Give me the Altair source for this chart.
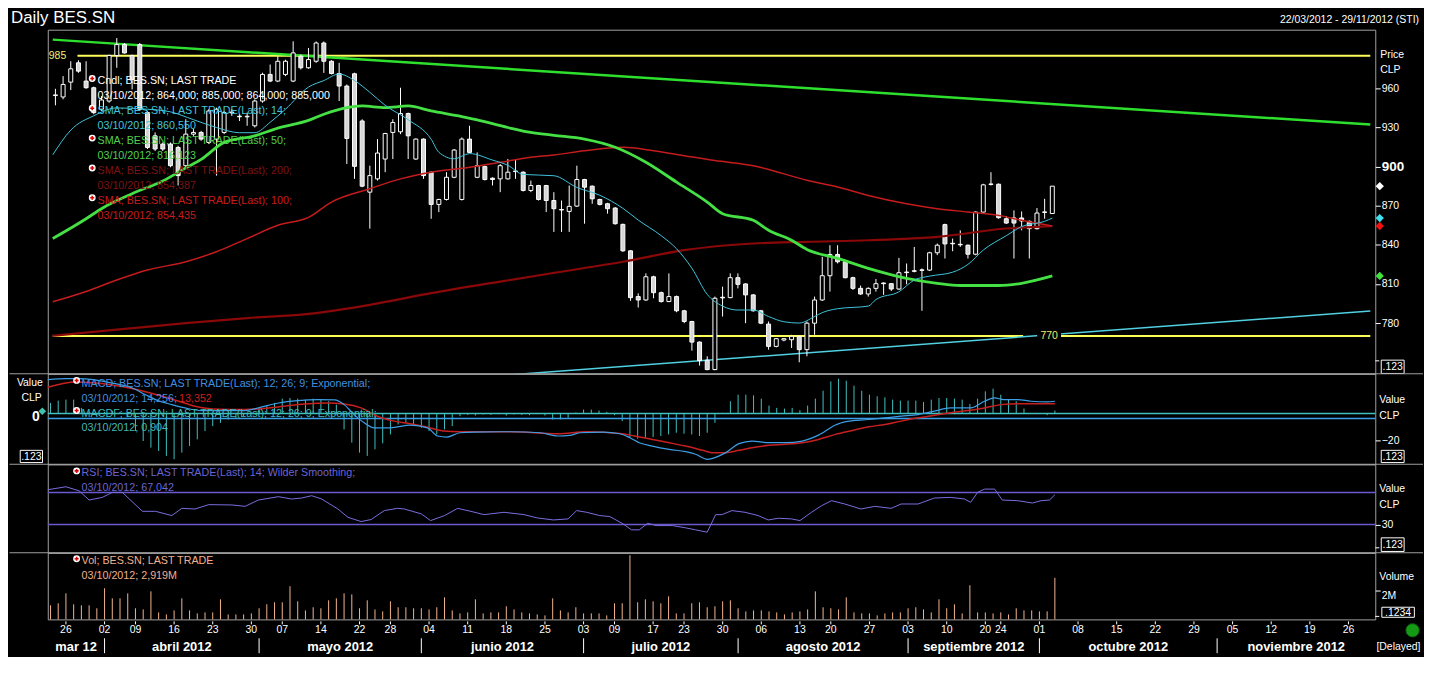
import altair as alt
import pandas as pd

F = "Liberation Sans, Arial, Helvetica, sans-serif"

# ---------------- data (trading-day index 0 = 22/03/2012) ----------------
OPEN = [954.5, 953.4, 964.8, 979.6, 965.6, 960.5, 944.0, 950.3, 985.2, 993.6,
        985.2, 993.6, 941.4, 923.6, 917.3, 917.3, 914.7, 900.7, 924.9, 926.2,
        918.5, 921.1, 926.2, 941.8, 938.6, 938.2, 931.3, 950.3, 970.7, 965.6,
        970.7, 965.6, 984.7, 975.8, 980.8, 994.8, 980.8, 971.4, 961.8, 971.2,
        935.0, 880.4, 890.6, 905.8, 926.2, 926.7, 940.7, 905.8, 921.1, 895.7,
        871.0, 874.8, 891.8, 874.8, 921.1, 891.8, 900.0, 891.1, 890.6, 890.6,
        896.6, 895.7, 881.7, 885.5, 885.5, 874.0, 867.1, 865.6, 869.7, 890.1,
        885.0, 874.8, 871.5, 868.2, 855.7, 835.4, 800.3, 797.7, 815.5, 803.3,
        796.5, 800.3, 789.4, 781.2, 765.4, 751.5, 744.3, 799.8, 799.5, 814.8,
        810.0, 801.6, 789.4, 779.2, 762.1, 767.0, 767.2, 769.8, 759.6, 779.9,
        797.7, 816.3, 832.6, 827.0, 814.8, 806.6, 802.3, 806.6, 810.7, 810.2,
        806.1, 819.1, 820.1, 820.8, 820.6, 833.9, 855.5, 841.2, 840.4, 839.7,
        832.8, 865.1, 886.3, 886.5, 860.0, 860.6, 860.6, 858.0, 852.4, 864.8,
        864.0]
HIGH = [959.7, 969.4, 980.8, 981.6, 980.8, 961.3, 954.1, 985.9, 998.6, 994.8,
        985.9, 994.8, 942.7, 926.2, 918.5, 918.5, 916.0, 936.3, 928.7, 927.4,
        944.0, 945.2, 942.7, 944.0, 940.2, 941.4, 951.6, 972.0, 978.3, 984.7,
        982.0, 996.1, 985.9, 991.0, 996.0, 996.0, 981.6, 979.6, 963.0, 972.0,
        936.3, 900.7, 921.1, 925.9, 936.3, 960.5, 941.4, 921.6, 921.6, 896.2,
        875.3, 895.7, 913.5, 922.4, 931.3, 910.9, 900.7, 891.8, 902.0, 905.8,
        905.8, 896.4, 889.3, 886.0, 886.0, 880.4, 874.0, 885.5, 900.7, 890.6,
        885.5, 875.3, 872.2, 869.0, 856.2, 835.9, 802.8, 818.1, 816.3, 804.1,
        818.1, 801.1, 790.1, 781.7, 765.9, 754.5, 800.3, 807.9, 818.1, 818.1,
        810.5, 802.1, 790.1, 781.2, 768.5, 768.5, 771.0, 770.5, 781.2, 800.3,
        830.8, 839.7, 839.7, 827.5, 815.5, 808.7, 807.4, 813.8, 811.2, 810.7,
        830.0, 825.7, 838.4, 821.9, 834.7, 841.0, 856.2, 844.8, 851.1, 840.2,
        865.6, 886.8, 895.7, 887.0, 862.1, 866.4, 865.6, 858.7, 868.2, 875.3,
        885.0]
LOW = [947.0, 951.6, 958.7, 971.9, 959.7, 940.2, 942.7, 949.0, 975.8, 986.7,
       959.2, 942.7, 913.5, 912.0, 912.0, 899.5, 885.5, 899.5, 923.6, 919.8,
       917.3, 893.1, 924.9, 938.9, 935.0, 931.3, 930.0, 949.0, 964.8, 964.8,
       969.4, 964.8, 974.5, 975.0, 979.6, 971.9, 970.7, 950.3, 902.0, 890.6,
       884.2, 852.4, 889.3, 895.7, 905.8, 924.9, 905.8, 905.3, 890.6, 860.0,
       865.1, 874.0, 891.1, 874.0, 910.4, 891.1, 889.3, 885.5, 880.4, 890.1,
       890.6, 880.9, 880.4, 874.0, 865.1, 849.9, 849.9, 849.9, 869.0, 856.2,
       871.5, 870.2, 863.9, 855.5, 834.6, 797.0, 791.9, 797.0, 799.0, 795.7,
       796.0, 788.3, 779.9, 758.8, 747.4, 743.8, 743.8, 785.0, 799.0, 806.6,
       779.9, 788.8, 779.2, 759.6, 761.4, 766.0, 760.9, 749.9, 754.5, 771.0,
       797.0, 804.1, 825.7, 814.3, 805.4, 801.6, 800.3, 804.1, 801.6, 804.6,
       805.4, 809.7, 818.9, 789.4, 819.9, 832.1, 829.5, 835.1, 838.4, 829.5,
       832.0, 864.6, 885.5, 860.0, 856.0, 829.5, 851.1, 829.5, 851.7, 860.0,
       864.0]
CLOSE = [955.0, 963.0, 975.0, 973.2, 960.5, 941.4, 951.1, 985.2, 993.6, 987.2,
         966.9, 944.0, 914.7, 913.5, 913.5, 900.7, 893.1, 924.9, 926.2, 921.1,
         942.7, 944.0, 941.4, 941.2, 938.2, 938.6, 950.3, 970.7, 965.6, 980.8,
         980.8, 987.2, 975.8, 982.1, 994.8, 980.8, 971.4, 961.8, 921.6, 900.2,
         885.0, 893.1, 910.4, 925.4, 933.8, 940.7, 923.6, 921.1, 893.1, 871.0,
         874.8, 891.8, 912.7, 921.1, 910.9, 900.7, 890.1, 890.1, 900.7, 895.7,
         896.2, 881.7, 885.5, 874.8, 874.0, 867.7, 866.7, 869.5, 890.1, 884.2,
         875.3, 871.0, 867.7, 856.2, 835.4, 799.5, 797.7, 815.5, 803.3, 796.5,
         800.3, 789.4, 781.2, 765.4, 751.2, 744.3, 799.0, 799.3, 814.8, 809.7,
         801.6, 789.4, 779.9, 762.1, 768.0, 768.0, 769.8, 759.6, 779.9, 797.7,
         816.3, 832.6, 827.0, 814.8, 806.6, 802.3, 806.6, 810.2, 810.2, 806.1,
         818.6, 818.7, 819.7, 820.4, 833.9, 839.7, 840.7, 840.8, 840.0, 832.8,
         865.1, 886.0, 886.7, 860.8, 856.7, 856.7, 858.3, 852.4, 864.4, 865.3,
         885.0]
VOLUME_M = [0.99, 1.13, 1.83, 1.06, 0.99, 0.99, 0.78, 2.19, 1.48, 1.48,
            1.83, 0.78, 0.70, 1.97, 0.49, 0.35, 0.63, 1.48, 0.63, 0.42,
            0.49, 0.49, 1.41, 0.35, 0.35, 0.35, 0.42, 0.78, 1.06, 1.20,
            1.20, 2.33, 1.27, 0.63, 0.85, 0.78, 1.34, 1.48, 1.83, 1.76,
            0.78, 1.34, 0.70, 0.56, 1.27, 0.85, 0.85, 0.78, 0.78, 0.70,
            0.85, 1.55, 0.63, 0.42, 0.49, 1.41, 0.42, 0.49, 0.49, 0.92,
            0.70, 0.49, 0.42, 0.35, 0.28, 1.48, 0.63, 0.49, 0.85, 0.42,
            0.42, 0.42, 0.28, 1.13, 1.13, 4.51, 1.20, 1.41, 1.27, 1.13,
            1.62, 0.42, 0.42, 1.13, 1.20, 0.85, 0.92, 1.27, 1.34, 0.78,
            0.56, 0.63, 0.63, 0.56, 0.49, 0.35, 0.49, 0.56, 0.70, 1.97,
            0.85, 0.78, 0.70, 1.55, 0.49, 0.42, 0.42, 0.28, 0.42, 0.49,
            0.49, 0.78, 0.85, 0.70, 0.49, 1.41, 0.78, 1.06, 0.42, 2.40,
            0.49, 0.49, 0.42, 0.49, 0.35, 0.78, 0.63, 0.63, 0.56, 0.56,
            2.92]
HIST = [3.2, 3.9, 4.2, 4.2, 1.7, 0.5, -0.5, 0.5, 0.8, 0.5, -1.0,
        -5.3, -8.3, -10.3, -11.3, -12.8, -13.8, -11.8, -9.8, -7.8, -5.3,
        -3.8, -2.8, -1.8, -1.3, -0.8, 0.3, 1.5, 2.2, 3.2, 4.5,
        4.7, 4.5, 4.2, 4.5, 4.2, 3.7, 2.7, -4.8, -8.8, -11.8,
        -12.8, -10.8, -9.0, -6.3, -3.3, -2.8, -3.3, -4.3, -5.3, -6.3,
        -4.8, -3.8, -0.8, -0.4, -0.6, -0.3, -0.4, -0.2, -0.6, -0.3,
        -0.4, -0.5, -0.2, -0.6, -1.8, -1.8, -1.3, 0.3, 1.2, 1.2,
        0.9, 0.5, -0.5, -2.3, -7.3, -7.6, -7.3, -7.1, -6.8, -6.3,
        -5.8, -6.1, -6.3, -6.8, -5.8, -2.8, 0.2, 3.7, 5.7, 5.7,
        5.5, 4.5, 2.4, 1.7, 1.5, 1.7, 1.0, 2.4, 4.5, 6.9,
        9.7, 10.5, 9.9, 8.4, 6.9, 5.7, 5.2, 4.9, 4.2, 3.9,
        3.9, 3.9, 3.5, 4.2, 4.7, 4.7, 4.5, 4.2, 2.9, 4.5,
        6.7, 7.5, 5.7, 4.2, 3.7, 1.5, 0.0, 0.1, -0.5, 0.9]

SMA14_I = [-0.35, 2, 5, 8, 12, 15, 18, 21, 24, 26, 28, 30, 33, 35, 37, 39, 41, 43, 46, 49,
           50, 52, 54, 57, 59, 61, 65, 68, 71, 74, 76, 79, 81, 83, 85, 87, 89, 91, 93, 95,
           97, 99, 100, 102, 106, 107, 110, 112, 114, 117, 119, 121, 124, 126, 129, 130]
SMA14_V = [909, 928, 939, 945, 944, 942, 936, 930, 926, 926, 934, 944, 961, 966, 971, 966, 957, 947, 936, 921,
           911, 906, 910, 905, 901, 894, 893, 884, 878, 868, 859, 847, 837, 822, 802, 793, 790, 790, 785, 781,
           780, 785, 788, 791, 793, 798, 804, 813, 816, 819, 825, 836, 847, 854, 858, 860.55]
SMA50_I = [-0.35, 4, 6, 10, 14, 17, 19, 22, 26, 29, 33, 35, 38, 40, 43, 46, 49, 53, 55, 59,
           62, 65, 69, 73, 77, 81, 85, 87, 91, 93, 96, 98, 102, 106, 111, 115, 118, 123, 126, 130]
SMA50_V = [844.8, 860, 867.7, 879.2, 889, 899, 905.5, 918.6, 923.6, 929.5, 935.5, 940.2, 945.3, 946.5, 945.3,
           946.5, 942.7, 938.4, 935.8, 930, 926.2, 924, 921.1, 914.8, 903.3, 888.1, 872.8, 863.9, 858.8,
           851.2, 843.5, 836.5, 829.6, 822, 814.3, 810.5, 808.8, 808.8, 810.5, 816.12]
SMA100_I = [-0.35, 4, 8, 12, 17, 21, 25, 29, 33, 36, 41, 45, 49, 54, 58, 62, 65, 69, 74, 78,
            82, 86, 91, 95, 98, 102, 106, 111, 115, 119, 123, 126, 130]
SMA100_V = [796.3, 804.2, 813, 820.7, 827, 834.7, 844.8, 855, 861, 872.8, 883, 890.6, 895.7, 899.5, 903.3,
            907.1, 908.9, 912.2, 914.8, 912.2, 908.4, 904.6, 900.7, 894.4, 889.5, 884.3, 877.9, 871.5,
            867.7, 865.2, 862.6, 858.8, 854.44]
SMA200_I = [-0.35, 8, 17, 25, 33, 41, 49, 58, 65, 74, 82, 91, 98, 106, 115, 124, 130]
SMA200_V = [770.3, 774.9, 780, 783.8, 787, 794, 802.9, 811.8, 818.5, 827, 835.9, 841, 842.3, 843.5,
            846.1, 852.5, 854.39]

MACD_I = [-0.35, 2.0, 3.7, 8.0, 10.6, 12.3, 13.6, 15.7, 17.4, 19.6, 22.6, 25.2, 26.9, 29.5, 32.0,
          34.6, 36.8, 38.0, 39.3, 40.6, 41.9, 44.0, 46.6, 48.8, 50.1, 51.3, 53.0, 54.8, 59.5, 63.4,
          65.7, 67.2, 68.5, 71.5, 73.7, 75.0, 76.2, 77.9, 80.1, 82.2, 83.5, 85.0, 87.4, 89.1, 90.8,
          93.0, 95.1, 97.3, 99.4, 101.6, 102.8, 105.9, 108.0, 110.1, 112.3, 114.4, 116.5, 119.1,
          120.9, 122.2, 123.4, 125.2, 126.9, 129.0, 130.0]
MACD_V = [35.5, 36.4, 36.4, 32.4, 27.9, 21.8, 17.3, 12.7, 9.7, 7.3, 7.3, 7.3, 9.7, 14.2, 16.4,
          17.3, 17.0, 12.7, 3.6, -3.9, -8.5, -8.5, -6.0, -8.5, -16.0, -17.0, -13.0, -12.4, -12.1, -13.0,
          -16.0, -15.5, -13.0, -12.4, -13.9, -17.6, -22.1, -25.2, -28.2, -30.3, -32.7, -37.3, -31.2,
          -23.0, -20.6, -22.1, -22.1, -20.6, -15.2, -6.0, -3.0, -0.9, 0.6, 2.1, 3.6, 6.7, 9.7, 9.7,
          15.8, 18.8, 17.3, 17.3, 15.8, 15.2, 15.8]
SIG_I = [-0.35, 3.3, 5.9, 10.2, 14.5, 16.6, 18.7, 20.9, 25.2, 29.5, 32.9, 35.9, 38.0, 40.2, 42.3,
         44.5, 46.6, 48.8, 50.9, 53.0, 59.5, 65.7, 69.4, 73.7, 75.6, 77.9, 80.1, 82.2, 84.4, 85.6,
         87.4, 89.1, 90.8, 93.0, 95.1, 97.3, 99.4, 101.6, 103.8, 105.9, 108.0, 110.1, 112.3, 114.4,
         116.5, 118.7, 120.9, 123.0, 125.2, 130.0]
SIG_V = [28.5, 33.3, 32.4, 27.9, 20.3, 15.8, 11.2, 8.8, 8.2, 10.6, 13.3, 14.2, 13.3, 9.7, 2.1,
         -2.4, -4.8, -7.9, -11.5, -12.1, -12.1, -13.9, -12.1, -13.6, -16.0, -19.1, -22.1, -25.2, -29.1,
         -31.2, -31.2, -29.1, -26.7, -24.5, -23.6, -22.1, -19.1, -14.5, -10.9, -7.6, -5.5, -2.4, 0.6,
         3.0, 5.2, 7.3, 9.7, 12.7, 13.6, 13.6]
RSI_I = [-0.35, 2.0, 3.7, 5.0, 6.7, 8.0, 9.3, 11.9, 13.6, 15.7, 17.0, 18.7, 20.5, 23.5, 25.2, 26.9,
         29.5, 31.2, 32.5, 33.8, 35.1, 37.2, 38.5, 40.2, 41.5, 43.2, 44.9, 45.8, 48.0, 49.2, 51.0,
         52.7, 54.4, 56.1, 58.7, 61.3, 63.0, 65.1, 67.0, 68.1, 69.4, 71.1, 72.4, 74.1, 75.2, 76.2,
         77.3, 78.4, 80.5, 82.2, 83.5, 85.0, 86.1, 86.9, 88.2, 89.9, 91.6, 92.9, 94.2, 95.9, 97.0,
         98.5, 99.8, 101.1, 102.8, 104.9, 106.7, 108.8, 110.1, 112.3, 114.4, 116.5, 118.3, 119.1,
         120.0, 120.9, 122.2, 123.2, 125.2, 127.1, 128.2, 129.3, 130.0]
RSI_V = [73.3, 77.0, 72.0, 60.5, 63.8, 70.0, 70.0, 46.5, 46.5, 41.2, 50.2, 49.4, 54.8, 54.4, 52.7,
         60.5, 64.7, 61.8, 63.0, 65.9, 61.8, 49.4, 39.1, 33.8, 36.3, 47.4, 50.2, 49.4, 43.3, 35.0,
         41.2, 50.2, 46.5, 42.4, 45.3, 42.4, 38.3, 35.8, 37.1, 47.4, 45.3, 41.2, 40.0, 30.9, 23.5,
         23.5, 31.7, 28.8, 28.8, 26.0, 23.5, 20.6, 42.4, 42.4, 47.4, 45.3, 41.2, 35.8, 37.9, 37.1,
         35.0, 45.3, 53.5, 59.7, 55.6, 49.4, 52.7, 50.2, 55.6, 55.6, 63.0, 63.8, 61.8, 57.7, 70.0,
         74.1, 74.1, 60.5, 59.7, 56.8, 59.7, 60.5, 67.04]

TOP_TREND_I = [-0.35, 171.47]
TOP_TREND_V = [997.4, 932.3]
LOW_TREND_I = [59.3, 171.47]
LOW_TREND_V = [740.3, 789.2]
RESIST = 985
SUPPORT = 770
RSI_LEVELS = [30, 70]

DAY_TICK_I = [2, 7, 11, 16, 21, 26, 30, 35, 40, 44, 49, 54, 59, 64, 69, 73, 78, 82, 87, 92, 97,
              101, 106, 111, 116, 121, 123, 128, 133, 138, 143, 148, 153, 158, 163, 168]
DAY_TICK_LABEL = ["26", "02", "09", "16", "23", "30", "07", "14", "22", "28", "04", "11", "18", "25",
                  "03", "09", "17", "23", "30", "06", "13", "20", "27", "03", "10", "20", "24", "01",
                  "08", "15", "22", "29", "05", "12", "19", "26"]
MONTH_START_I = [7, 27, 48, 69, 89, 111, 128, 151]
MONTH_LABEL = ["mar 12", "abril 2012", "mayo 2012", "junio 2012", "julio 2012", "agosto 2012",
               "septiembre 2012", "octubre 2012", "noviembre 2012"]

# ---------------- layout ----------------
X0, X1 = -0.35, 171.47
W = 1335
HP, HM, HR, HV = 346, 91, 89, 67
G = "#a0a0a0"
YEL = "#ffff5a"
TEAL = "#40c0c0"
BLUE = "#3c9ee6"
RED = "#c82020"

XS = alt.Scale(domain=[X0, X1], nice=False, zero=False)
YP = alt.Scale(domain=[741.1, 1005.0], nice=False, zero=False)
YM = alt.Scale(domain=[-41.82, 40.91], nice=False, zero=False)
YH = alt.Scale(domain=[-15.32, 12.01], nice=False, zero=False)
YR = alt.Scale(domain=[-4.94, 104.94], nice=False, zero=False)
YV = alt.Scale(domain=[0, 4.685], nice=False, zero=False)

ONE = pd.DataFrame({"k": [0]})


def X(f="i"):
    return alt.X(f"{f}:Q", scale=XS, axis=None)


def raxis(values, **kw):
    base = dict(orient="right", values=values, title=None, grid=False, domain=False,
                tickColor="white", tickSize=5, labelColor="white", labelFont=F,
                labelFontSize=10.5, labelPadding=1, labelFlush=False, labelOverlap=False)
    base.update(kw)
    return alt.Axis(**base)


AXP = raxis([780, 810, 840, 870, 900, 930, 960],
            labelFontSize={"condition": {"test": "datum.value === 900", "value": 13.5}, "value": 10.5},
            labelFontWeight={"condition": {"test": "datum.value === 900", "value": "bold"}, "value": "normal"})
AXM = raxis([-20])
AXR = raxis([30])
AXV = raxis([2], labelExpr="'2M'", labelBaseline="top")


def txt(s, x, y, color="white", size=10.5, weight="normal", align="left", baseline="middle", font=F):
    return alt.Chart(ONE).mark_text(text=s, color=color, fontSize=size, fontWeight=weight,
                                    align=align, baseline=baseline, font=font).encode(
        x=alt.value(x), y=alt.value(y))


def hrule(x1, x2, y, color, sw=1):
    return alt.Chart(ONE).mark_rule(color=color, strokeWidth=sw).encode(
        x=alt.value(x1), x2=alt.value(x2), y=alt.value(y))


def tick(x1, x2, y):
    return hrule(x1, x2, y, "white", 1)


def box(x1, x2, y1, y2, label):
    r = alt.Chart(ONE).mark_rect(fill="black", stroke="white", strokeWidth=1).encode(
        x=alt.value(x1), x2=alt.value(x2), y=alt.value(y1), y2=alt.value(y2))
    return [r, txt(label, (x1 + x2) / 2, (y1 + y2) / 2 + 0.5, align="center")]


def icon(x, y):
    c = alt.Chart(ONE).mark_point(shape="circle", filled=True, color="white", size=48, opacity=1).encode(
        x=alt.value(x), y=alt.value(y))
    p = alt.Chart(ONE).mark_point(shape="cross", filled=True, color="#e00000", size=16, opacity=1).encode(
        x=alt.value(x), y=alt.value(y))
    return [c, p]


def pline(I, V, color, sw, interp="monotone"):
    d = pd.DataFrame({"i": I, "p": V})
    return alt.Chart(d).mark_line(color=color, strokeWidth=sw, interpolate=interp, clip=True).encode(
        x=X(), y=alt.Y("p:Q", scale=YP, axis=AXP))


# ---------------- price panel ----------------
cdf = pd.DataFrame({"i": list(range(len(OPEN))), "o": OPEN, "h": HIGH, "l": LOW, "c": CLOSE})

lv = pd.DataFrame({"x0": [2.87, X0, 131.1], "x1": [X1, 126.2, X1], "p": [RESIST, SUPPORT, SUPPORT]})
levels = alt.Chart(lv).mark_rule(color=YEL, strokeWidth=2).encode(
    x=alt.X("x0:Q", scale=XS, axis=None), x2="x1:Q", y=alt.Y("p:Q", scale=YP, axis=AXP))

wick = alt.Chart(cdf).mark_rule(color="white", strokeWidth=1).encode(
    x=X(), y=alt.Y("l:Q", scale=YP, axis=AXP), y2="h:Q")
body = alt.Chart(cdf).mark_bar(size=4, stroke="white", strokeWidth=1).encode(
    x=X(), y=alt.Y("o:Q", scale=YP, axis=AXP), y2="c:Q",
    fill=alt.condition(alt.datum.c >= alt.datum.o, alt.value("black"), alt.value("#d6d6d6")))

lbl985 = alt.Chart(pd.DataFrame({"p": [RESIST]})).mark_text(
    text="985", color="#f0f070", fontSize=10.5, font=F, align="left", baseline="middle").encode(
    x=alt.value(1), y=alt.Y("p:Q", scale=YP, axis=AXP))
bg770 = alt.Chart(ONE).mark_rect(fill="black").encode(
    x=alt.value(995), x2=alt.value(1019), y=alt.value(302), y2=alt.value(314))
lbl770 = alt.Chart(pd.DataFrame({"p": [SUPPORT]})).mark_text(
    text="770", color="#f0f070", fontSize=10.5, font=F, align="center", baseline="middle").encode(
    x=alt.value(1007), y=alt.Y("p:Q", scale=YP, axis=AXP))

dia = pd.DataFrame({"p": [CLOSE[-1], SMA14_V[-1], SMA100_V[-1], SMA50_V[-1]],
                    "col": ["white", "#40e0f0", "#f01010", "#40e040"]})
diamonds = alt.Chart(dia).mark_point(shape="diamond", filled=True, size=70, opacity=1).encode(
    x=alt.value(1339.5), y=alt.Y("p:Q", scale=YP, axis=AXP), color=alt.Color("col:N", scale=None))

legend_rows = [
    ("Cndl; BES.SN; LAST TRADE", "white"),
    ("03/10/2012; 864,000; 885,000; 864,000; 885,000", "white"),
    ("SMA; BES.SN; LAST TRADE(Last);  14;", "#44c4dc"),
    ("03/10/2012; 860,550", "#44c4dc"),
    ("SMA; BES.SN; LAST TRADE(Last);  50;", "#50d050"),
    ("03/10/2012; 816,123", "#50d050"),
    ("SMA; BES.SN; LAST TRADE(Last);  200;", "#7c1414"),
    ("03/10/2012; 854,387", "#7c1414"),
    ("SMA; BES.SN; LAST TRADE(Last);  100;", "#c81c1c"),
    ("03/10/2012; 854,435", "#c81c1c"),
]
plegend = []
for k, (s, col) in enumerate(legend_rows):
    plegend.append(txt(s, 50, 52 + 15 * k, col, size=10.8))
for k in range(5):
    plegend += icon(44.7, 49 + 30 * k)

price = alt.layer(
    hrule(-38.5, 1383, -24.5, "black"),
    levels,
    pline(TOP_TREND_I, TOP_TREND_V, "#2ee02e", 2.5, "linear"),
    pline(LOW_TREND_I, LOW_TREND_V, "#50d0e0", 1.5, "linear"),
    wick, body,
    pline(SMA200_I, SMA200_V, "#8a0808", 2.2),
    pline(SMA100_I, SMA100_V, "#c41c1c", 1.5),
    pline(SMA50_I, SMA50_V, "#44e044", 2.8),
    pline(SMA14_I, SMA14_V, "#40c4dc", 1),
    lbl985, bg770, lbl770, diamonds,
    *plegend,
    txt("Price", 1340, 25), txt("CLP", 1340, 41),
    tick(1335, 1339, 333), *box(1341, 1364, 332.3, 345.7, ".123"),
    txt("Daily BES.SN", -37, -7, size=17, baseline="alphabetic"),
    txt("22/03/2012 - 29/11/2012 (STI)", 1379, -7, size=10.5, align="right", baseline="alphabetic"),
).properties(width=W, height=HP)

# ---------------- MACD panel ----------------
hdf = pd.DataFrame({"i": list(range(len(HIST))), "h": HIST, "z": [0] * len(HIST)})
hist = alt.Chart(hdf).mark_rule(color=TEAL, strokeWidth=1).encode(
    x=X(), y=alt.Y("z:Q", scale=YH, axis=None), y2="h:Q")
teal0 = alt.Chart(pd.DataFrame({"h": [0]})).mark_rule(color=TEAL, strokeWidth=1.5).encode(
    y=alt.Y("h:Q", scale=YH, axis=None))
blue0 = alt.Chart(pd.DataFrame({"m": [0]})).mark_rule(color=BLUE, strokeWidth=1.5).encode(
    y=alt.Y("m:Q", scale=YM, axis=AXM))
sig = alt.Chart(pd.DataFrame({"i": SIG_I, "m": SIG_V})).mark_line(color=RED, strokeWidth=1.5, interpolate="monotone").encode(
    x=X(), y=alt.Y("m:Q", scale=YM, axis=None))
macd_l = alt.Chart(pd.DataFrame({"i": MACD_I, "m": MACD_V})).mark_line(color=BLUE, strokeWidth=1.2, interpolate="monotone").encode(
    x=X(), y=alt.Y("m:Q", scale=YM, axis=None))
teal_dia = alt.Chart(ONE).mark_point(shape="diamond", filled=True, color="#40c0b0", size=60, opacity=1).encode(
    x=alt.value(-5.5), y=alt.value(37.7))

macd = alt.layer(
    hrule(-38.5, 1383, 0, G),
    hist, teal0, blue0, sig, macd_l,
    *icon(29, 6.7), *icon(29, 37),
    txt("MACD; BES.SN; LAST TRADE(Last);  12; 26; 9; Exponential;", 34, 10.5, "#4090e0", size=10.8),
    txt("03/10/2012; 14,256; ", 34, 25, "#4090e0", size=10.8),
    txt("13,352", 132, 25, "#d02020", size=10.8),
    txt("MACDF; BES.SN; LAST TRADE(Last);  12; 26; 9; Exponential;", 34, 40.3, "#40b8b8", size=10.8),
    txt("03/10/2012; 0,904", 34, 55, "#40b8b8", size=10.8),
    txt("Value", -5, 9.3, align="right"), txt("CLP", -6, 24.3, align="right"),
    txt("0", -12, 44, size=14, weight="bold", align="center"),
    teal_dia,
    *box(-27.7, -5.3, 77, 89.3, ".123"),
    txt("Value", 1339, 26), txt("CLP", 1339, 42),
    *box(1341, 1364, 77, 89.3, ".123"),
).resolve_scale(y="independent").properties(width=W, height=HM)

# ---------------- RSI panel ----------------
rsi_lv = alt.Chart(pd.DataFrame({"r": RSI_LEVELS})).mark_rule(color="#6a5acd", strokeWidth=1.5).encode(
    y=alt.Y("r:Q", scale=YR, axis=AXR))
rsi_l = alt.Chart(pd.DataFrame({"i": RSI_I, "r": RSI_V})).mark_line(color="#7a6ee0", strokeWidth=1).encode(
    x=X(), y=alt.Y("r:Q", scale=YR, axis=AXR))
rsi = alt.layer(
    hrule(-38.5, 1383, 0, G),
    rsi_lv, rsi_l,
    *icon(29, 6.7),
    txt("RSI; BES.SN; LAST TRADE(Last);  14; Wilder Smoothing;", 34, 9, "#6a64d4", size=10.8),
    txt("03/10/2012; 67,042", 34, 24, "#6a64d4", size=10.8),
    txt("Value", 1339, 25), txt("CLP", 1339, 41),
    tick(1335, 1339, 84), *box(1341, 1364, 74, 87.7, ".123"),
).properties(width=W, height=HR)

# ---------------- Volume panel + date axis ----------------
vdf = pd.DataFrame({"i": list(range(len(VOLUME_M))), "v": VOLUME_M, "z": [0] * len(VOLUME_M)})
vol_b = alt.Chart(vdf).mark_rule(color="#f2b48e", strokeWidth=1).encode(
    x=X(), y=alt.Y("z:Q", scale=YV, axis=AXV), y2="v:Q")

ddf = pd.DataFrame({"i": DAY_TICK_I, "lab": DAY_TICK_LABEL})
day_ticks = alt.Chart(ddf).mark_rule(color="white", strokeWidth=1).encode(
    x=X(), y=alt.value(69), y2=alt.value(72))
day_lbls = alt.Chart(ddf).mark_text(color="white", font=F, fontSize=10.5, align="center", baseline="middle").encode(
    x=X(), y=alt.value(77.6), text="lab:N")

bounds = [X0] + MONTH_START_I + [X1]
mdf = pd.DataFrame({"i": [(bounds[k] + bounds[k + 1]) / 2 for k in range(len(MONTH_LABEL))], "lab": MONTH_LABEL})
month_lbls = alt.Chart(mdf).mark_text(color="white", font=F, fontSize=13, fontWeight="bold",
                                      align="center", baseline="middle").encode(
    x=X(), y=alt.value(94.6), text="lab:N")
seps = alt.Chart(pd.DataFrame({"i": MONTH_START_I})).mark_rule(color="white", strokeWidth=1).encode(
    x=X(), y=alt.value(86), y2=alt.value(101))
led = alt.Chart(ONE).mark_point(shape="circle", filled=True, color="#159a15", stroke="#0b5c0b",
                                strokeWidth=1, size=180, opacity=1).encode(x=alt.value(1372.5), y=alt.value(78))

volume = alt.layer(
    hrule(-38.5, 1383, 0, G),
    vol_b,
    *icon(29, 6),
    txt("Vol; BES.SN; LAST TRADE", 34, 8, "#f0b090", size=10.8),
    txt("03/10/2012; 2,919M", 34, 23, "#f0b090", size=10.8),
    txt("Volume", 1339, 24),
    tick(1335, 1339, 64), *box(1341.6, 1374.3, 54.8, 64.9, ".1234"),
    day_ticks, day_lbls, month_lbls, seps, led,
    txt("[Delayed]", 1380.5, 94.4, align="right"),
).properties(width=W, height=HV)

chart = alt.vconcat(price, macd, rsi, volume, spacing=0, bounds="flush").resolve_scale(
    x="independent", y="independent").properties(
    padding={"top": -6, "left": 0, "right": 0, "bottom": 0}).configure(
    background="black").configure_view(stroke=G, strokeWidth=1)

chart.save("out.html", embed_options={"renderer": "svg", "actions": False})
